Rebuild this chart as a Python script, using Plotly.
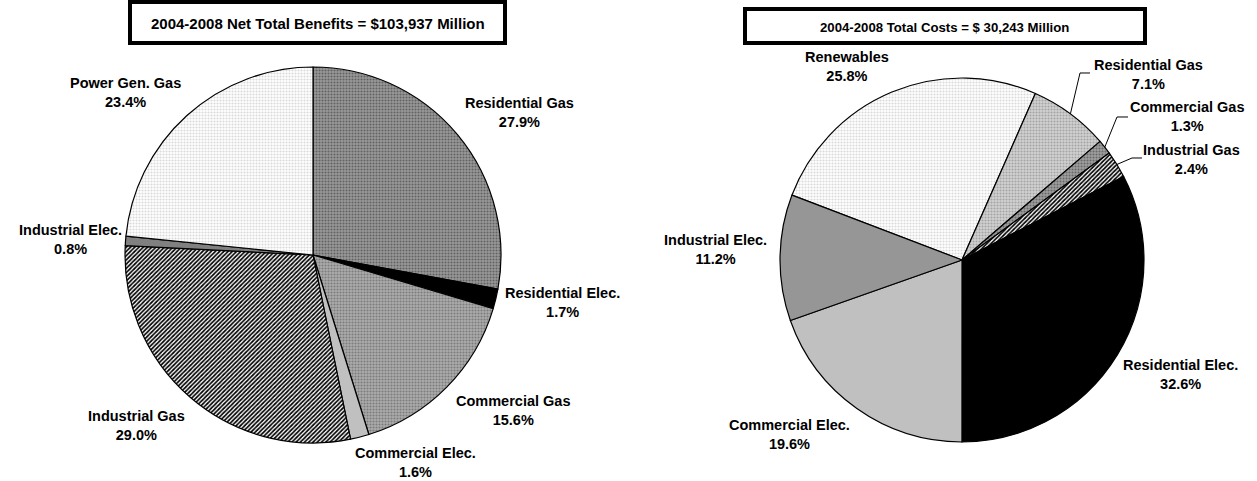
import math
import plotly.graph_objects as go

W, H = 1257, 481

# net benefits, clockwise from 12 o'clock (percent)
ben_labels = ['Residential Gas', 'Residential Elec.', 'Commercial Gas', 'Commercial Elec.',
              'Industrial Gas', 'Industrial Elec.', 'Power Gen. Gas']
ben_values = [27.9, 1.7, 15.6, 1.6, 29.0, 0.8, 23.4]
ben_title = '2004-2008 Net Total Benefits = $103,937 Million'

# total costs, clockwise (percent)
cost_labels = ['Renewables', 'Residential Gas', 'Commercial Gas', 'Industrial Gas',
               'Residential Elec.', 'Commercial Elec.', 'Industrial Elec.']
cost_values = [25.8, 7.1, 1.3, 2.4, 32.6, 19.6, 11.2]
cost_title = '2004-2008 Total Costs = $ 30,243 Million'

FONT = 'Liberation Sans, Arial, sans-serif'

# slice fills (background colour, pattern colour, pattern shape)
ben_fill = dict(bg=['#9a9a9a', '#000000', '#acacac', '#c0c0c0', '#ffffff', '#808080', '#ffffff'],
                fg=['#626262', '#000000', '#7c7c7c', '#c0c0c0', '#000000', '#808080', '#dadada'],
                shape=['.', '', '.', '', '/', '', '.'])
cost_fill = dict(bg=['#ffffff', '#d2d2d2', '#a0a0a0', '#ffffff', '#000000', '#c0c0c0', '#969696'],
                 fg=['#dadada', '#a4a4a4', '#686868', '#000000', '#000000', '#c0c0c0', '#969696'],
                 shape=['.', '.', '.', '/', '', '', ''])
# hatch slices are denser than the dotted ones
ben_solid = [0.4, 0.4, 0.4, 0.4, 0.55, 0.4, 0.4]
cost_solid = [0.4, 0.4, 0.4, 0.55, 0.4, 0.4, 0.4]

# pie geometry in pixels: centre x, centre y (from top), radius
ben_geo = (313, 255, 188)
cost_geo = (962, 260, 182)
cost_rotation = -69.1

# label block centres in pixels
ben_pos = {'Residential Gas': (519, 112), 'Residential Elec.': (562, 302),
           'Commercial Gas': (513, 410), 'Commercial Elec.': (415, 462),
           'Industrial Gas': (136, 425), 'Industrial Elec.': (70, 239),
           'Power Gen. Gas': (125, 92)}
cost_pos = {'Renewables': (847, 66), 'Residential Gas': (1148, 74),
            'Commercial Gas': (1187, 116), 'Industrial Gas': (1191, 159),
            'Residential Elec.': (1180, 374), 'Commercial Elec.': (789, 434),
            'Industrial Elec.': (715, 249)}
# leader line elbows for the thin cost slices
cost_leaders = {'Residential Gas': ((1080, 73), (1090, 73)),
                'Commercial Gas': ((1117, 117), (1128, 117)),
                'Industrial Gas': ((1132, 158), (1142, 158))}

# title boxes: text, font size, box x0, x1, y0, y1 (pixels)
titles = [(ben_title, 15, 130, 505, 2, 43),
          (cost_title, 13.2, 745, 1145, 9, 43)]


def px(x):
    return x / W


def py(y):
    return 1 - y / H


def domain(geo):
    cx, cy, r = geo
    return dict(x=[px(cx - r), px(cx + r)], y=[py(cy + r), py(cy - r)])


def make_pie(labels, values, fill, solid, geo, rotation):
    return go.Pie(labels=labels, values=values, sort=False, direction='clockwise',
                  rotation=rotation, textinfo='none', showlegend=False,
                  domain=domain(geo),
                  marker=dict(colors=fill['bg'],
                              line=dict(color='black', width=1.2),
                              pattern=dict(shape=fill['shape'], fgcolor=fill['fg'],
                                           bgcolor=fill['bg'], size=3, solidity=solid,
                                           fillmode='replace')))


fig = go.Figure([make_pie(ben_labels, ben_values, ben_fill, ben_solid, ben_geo, 0),
                 make_pie(cost_labels, cost_values, cost_fill, cost_solid, cost_geo, cost_rotation)])

annotations = []
shapes = []
for labels, values, pos in [(ben_labels, ben_values, ben_pos), (cost_labels, cost_values, cost_pos)]:
    for lab, v in zip(labels, values):
        x, y = pos[lab]
        annotations.append(dict(x=px(x), y=py(y), xref='paper', yref='paper',
                                text='<b>%s<br>%.1f%%</b>' % (lab, v), showarrow=False,
                                xanchor='center', yanchor='middle', align='center',
                                font=dict(family=FONT, size=14.5, color='black')))

# leader lines start on the rim at each slice's mid angle
cx, cy, r = cost_geo
tot = sum(cost_values)
acc = 0
for lab, v in zip(cost_labels, cost_values):
    mid = math.radians(cost_rotation + 360 * (acc + v / 2) / tot)
    acc += v
    if lab not in cost_leaders:
        continue
    (ex, ey), (hx, hy) = cost_leaders[lab]
    sx, sy = cx + r * math.sin(mid), cy - r * math.cos(mid)
    shapes.append(dict(type='path', xref='paper', yref='paper',
                       path='M %f %f L %f %f L %f %f' % (px(sx), py(sy), px(ex), py(ey), px(hx), py(hy)),
                       line=dict(color='black', width=1)))

for title, size, x0, x1, y0, y1 in titles:
    shapes.append(dict(type='rect', xref='paper', yref='paper', x0=px(x0), x1=px(x1),
                       y0=py(y1), y1=py(y0), line=dict(color='black', width=4),
                       fillcolor='white', layer='above'))
    annotations.append(dict(x=px((x0 + x1) / 2), y=py((y0 + y1) / 2 + 1), xref='paper', yref='paper',
                            text='<b>%s</b>' % title, showarrow=False,
                            xanchor='center', yanchor='middle',
                            font=dict(family=FONT, size=size, color='black')))

fig.update_layout(width=W, height=H, margin=dict(l=0, r=0, t=0, b=0),
                  paper_bgcolor='white', plot_bgcolor='white',
                  annotations=annotations, shapes=shapes)

# page body has a default 8px margin; drop it so the figure sits at the corner
fig.write_html('out.html', config={'displayModeBar': False},
               post_script="document.body.style.margin='0';")
